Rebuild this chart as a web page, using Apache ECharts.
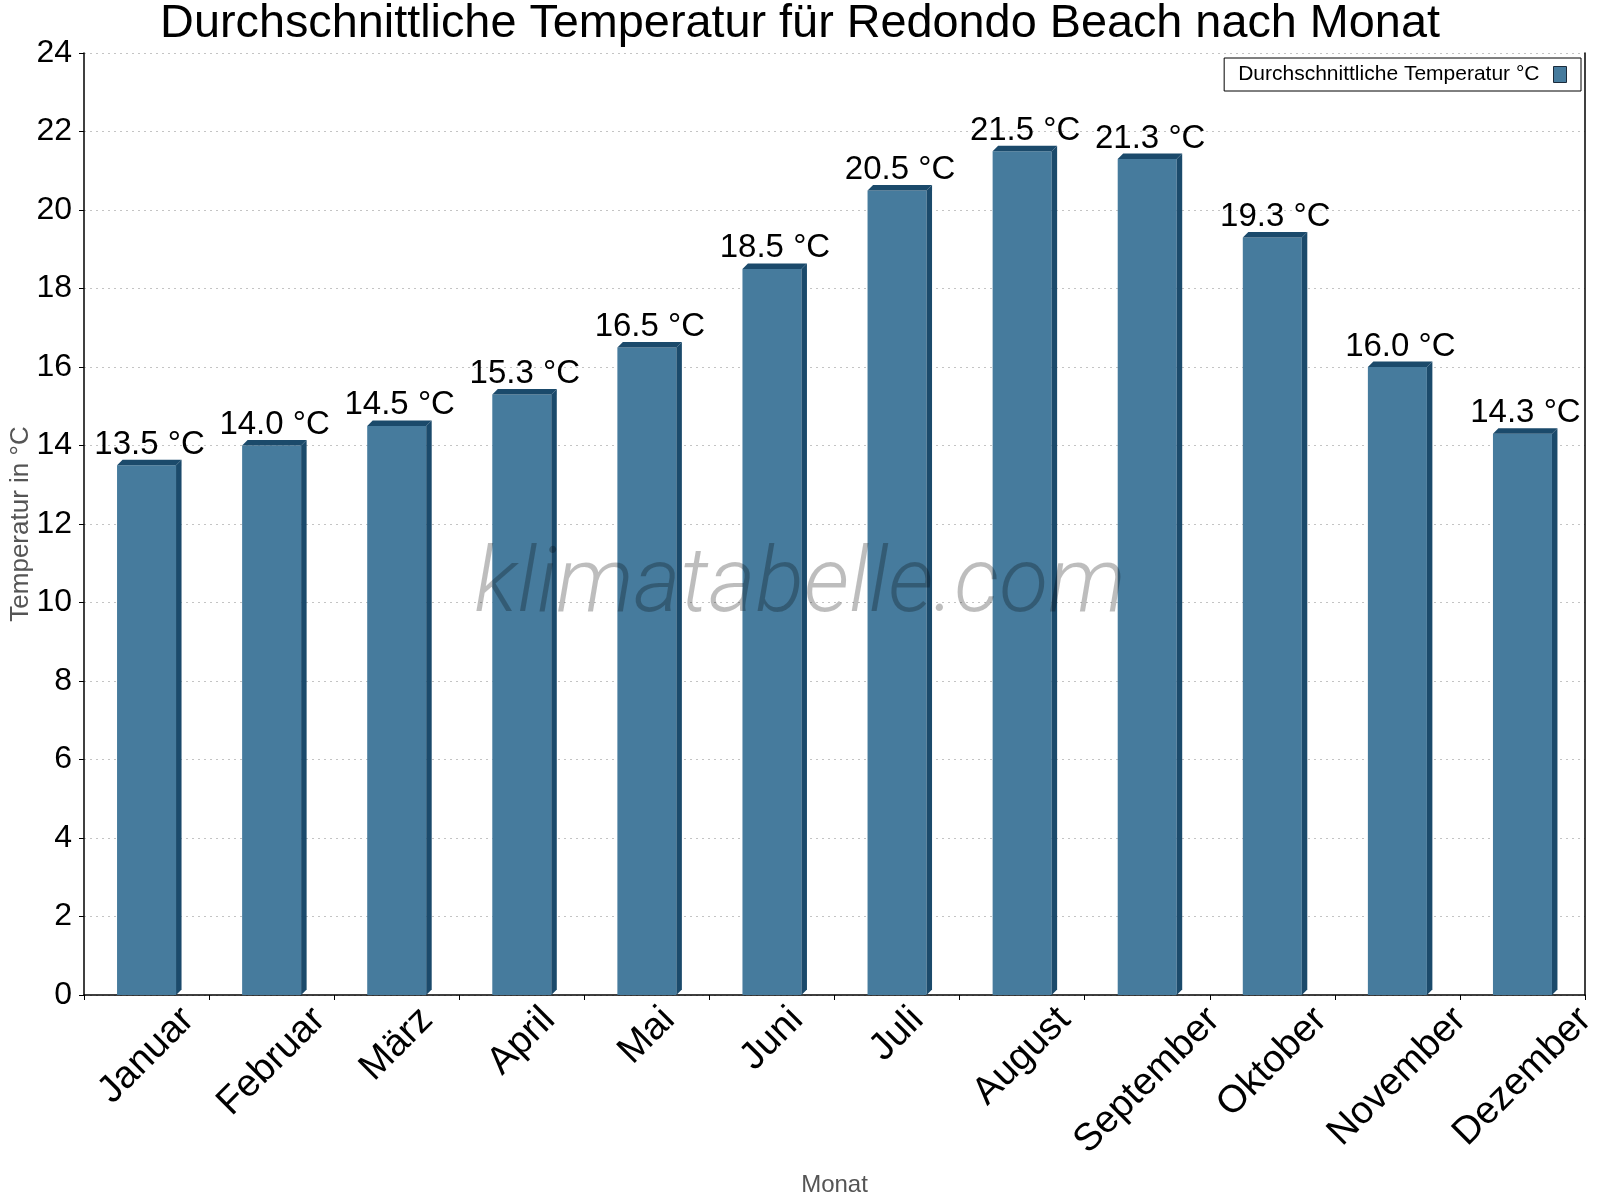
<!DOCTYPE html>
<html>
<head>
<meta charset="utf-8">
<script src="https://cdn.jsdelivr.net/npm/echarts@6/dist/echarts.min.js"></script>
<style>
  html, body { margin: 0; padding: 0; background: #fff; }
  #chart { width: 1600px; height: 1200px; }
</style>
</head>
<body>
<div id="chart"></div>
<script>
const months = ['Januar', 'Februar', 'März', 'April', 'Mai', 'Juni', 'Juli', 'August', 'September', 'Oktober', 'November', 'Dezember'];
const temps = [13.5, 14.0, 14.5, 15.3, 16.5, 18.5, 20.5, 21.5, 21.3, 19.3, 16.0, 14.3];
const yTicks = [0, 24, 2];

const front = '#467b9d';
const dark = '#1b4a6b';
const fontFam = '"Liberation Sans", Arial, sans-serif';
const xFont = 38.5;
const barW = 59;
const depth = 5.5;

// rotated month labels: centred under the category, tops on one line.
// padding moves the text back along its direction, the empty first line moves it down.
const ctx = document.createElement('canvas').getContext('2d');
ctx.font = xFont + 'px ' + fontFam;
const xData = months.map(m => {
    const w = ctx.measureText(m).width;
    return {
        value: m,
        textStyle: {
            align: 'center',
            verticalAlign: 'middle',
            lineHeight: w / 2,
            padding: [0, w / 2, 0, 0]
        }
    };
});

const chart = echarts.init(document.getElementById('chart'));

chart.setOption({
    animation: false,
    title: {
        text: 'Durchschnittliche Temperatur für Redondo Beach nach Monat',
        left: 'center',
        top: -4,
        textStyle: { fontFamily: fontFam, fontSize: 46.8, fontWeight: 'normal', color: '#000' }
    },
    legend: {
        data: ['Durchschnittliche Temperatur °C'],
        right: 19,
        top: 58,
        align: 'right',
        padding: [6, 14, 6, 14],
        borderColor: '#000',
        borderWidth: 1,
        borderRadius: 0,
        itemWidth: 13,
        itemHeight: 16,
        icon: 'rect',
        itemStyle: { borderColor: '#1b2b3b', borderWidth: 1 },
        textStyle: { fontFamily: fontFam, fontSize: 21, color: '#000', padding: [0, 9, 0, 0] }
    },
    grid: { left: 84, right: 15, top: 53, bottom: 205, outerBoundsMode: 'none', containLabel: false },
    graphic: [{
        type: 'text',
        left: 'center',
        top: 543,
        z: 100,
        style: {
            text: 'klimatabelle.com',
            font: 'italic 300 90px Roboto, "Open Sans", sans-serif',
            fill: 'rgba(0,0,0,0.26)'
        }
    }],
    xAxis: {
        type: 'category',
        data: xData,
        name: 'Monat',
        nameLocation: 'middle',
        nameGap: 178,
        nameMoveOverlap: false,
        nameTextStyle: { fontFamily: fontFam, fontSize: 24, color: '#555' },
        axisLine: { lineStyle: { color: '#000', width: 1.5 } },
        axisTick: { show: true, length: 5, lineStyle: { color: '#000' } },
        axisLabel: {
            interval: 0,
            rotate: 45,
            align: 'center',
            verticalAlign: 'middle',
            margin: 19,
            fontFamily: fontFam,
            fontSize: xFont,
            color: '#000',
            formatter: v => '\n' + v
        },
        splitLine: { show: false }
    },
    yAxis: [{
        type: 'value',
        min: yTicks[0],
        max: yTicks[1],
        interval: yTicks[2],
        name: 'Temperatur in °C',
        nameLocation: 'middle',
        nameGap: 50,
        nameMoveOverlap: false,
        nameTextStyle: { fontFamily: fontFam, fontSize: 26, color: '#555' },
        axisLine: { show: true, lineStyle: { color: '#000', width: 1.5 } },
        axisTick: { show: true, length: 5, lineStyle: { color: '#000' } },
        axisLabel: { fontFamily: fontFam, fontSize: 32, color: '#000', margin: 12 },
        splitLine: { show: true, lineStyle: { color: '#c4c4c4', type: [2, 4], width: 1 } }
    }, {
        type: 'value',
        min: yTicks[0],
        max: yTicks[1],
        interval: yTicks[2],
        position: 'right',
        axisLine: { show: true, lineStyle: { color: '#000', width: 1.5 } },
        axisTick: { show: false },
        axisLabel: { show: false },
        splitLine: { show: false }
    }],
    series: [{
        name: 'Durchschnittliche Temperatur °C',
        type: 'bar',
        data: temps,
        barWidth: barW,
        itemStyle: { color: front },
        label: {
            show: true,
            position: 'top',
            distance: 4,
            offset: [3, 0],
            fontFamily: fontFam,
            fontSize: 33,
            color: '#000',
            formatter: p => p.value.toFixed(1) + ' °C'
        },
        z: 2
    }, {
        name: '3d',
        type: 'custom',
        data: temps.map((v, i) => [i, v]),
        z: 3,
        renderItem: function (params, api) {
            const top = api.coord([api.value(0), api.value(1)]);
            const base = api.coord([api.value(0), 0]);
            const l = top[0] - barW / 2;
            const r = top[0] + barW / 2;
            return {
                type: 'group',
                children: [{
                    type: 'polygon',
                    shape: { points: [[l, top[1]], [r, top[1]], [r + depth, top[1] - depth], [l + depth, top[1] - depth]] },
                    style: { fill: dark }
                }, {
                    type: 'polygon',
                    shape: { points: [[r, top[1]], [r + depth, top[1] - depth], [r + depth, base[1] - depth], [r, base[1]]] },
                    style: { fill: dark }
                }]
            };
        },
        silent: true
    }]
});
</script>
</body>
</html>
